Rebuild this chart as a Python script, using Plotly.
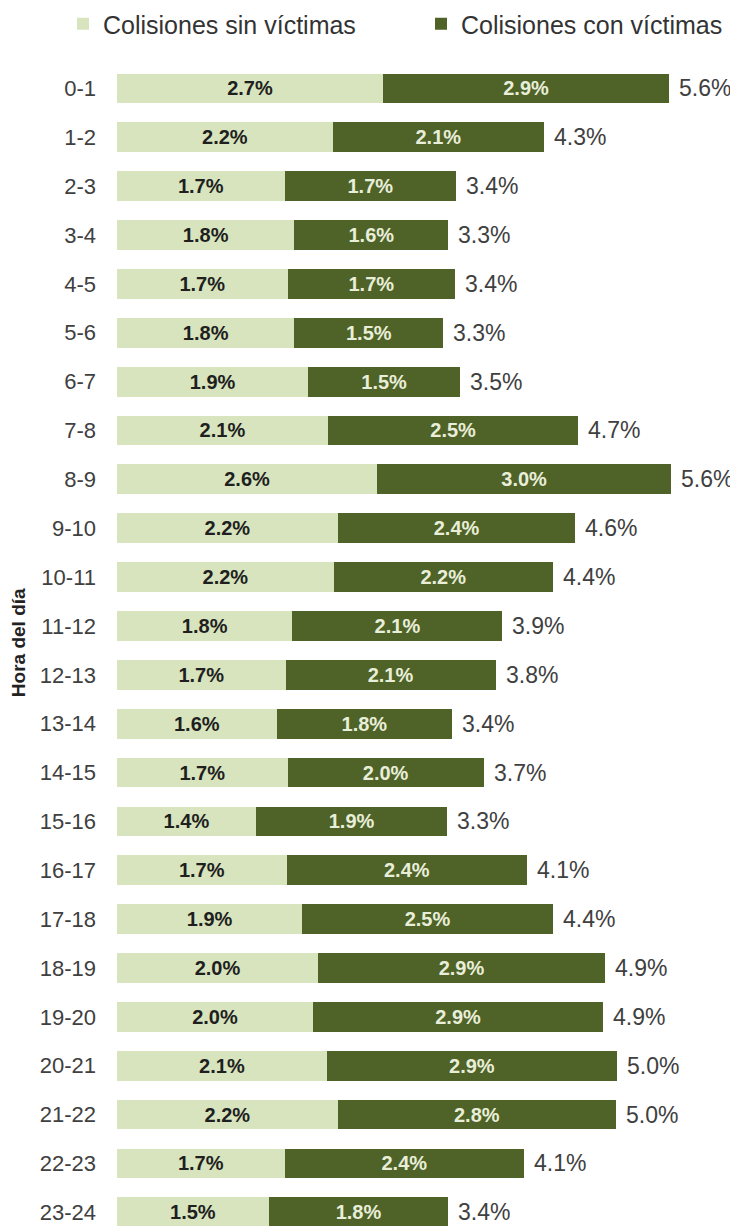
import plotly.graph_objects as go

horas = ["0-1", "1-2", "2-3", "3-4", "4-5", "5-6", "6-7", "7-8", "8-9", "9-10",
         "10-11", "11-12", "12-13", "13-14", "14-15", "15-16", "16-17", "17-18",
         "18-19", "19-20", "20-21", "21-22", "22-23", "23-24"]

# % of collisions per hour (labels rounded to 1 decimal)
sin_victimas = [2.70, 2.19, 1.70, 1.80, 1.73, 1.80, 1.94, 2.14, 2.64, 2.24,
                2.20, 1.78, 1.71, 1.62, 1.73, 1.41, 1.72, 1.88,
                2.04, 1.99, 2.13, 2.24, 1.70, 1.54]
con_victimas = [2.90, 2.14, 1.74, 1.56, 1.70, 1.51, 1.54, 2.54, 2.98, 2.41,
                2.22, 2.13, 2.13, 1.78, 1.99, 1.94, 2.44, 2.54,
                2.91, 2.94, 2.94, 2.82, 2.43, 1.82]
totales = [5.6, 4.3, 3.4, 3.3, 3.4, 3.3, 3.5, 4.7, 5.6, 4.6,
           4.4, 3.9, 3.8, 3.4, 3.7, 3.3, 4.1, 4.4,
           4.9, 4.9, 5.0, 5.0, 4.1, 3.4]

CLARO = "#d7e4bd"
OSCURO = "#4f6228"
FONT = "Arial, Liberation Sans, sans-serif"

fig = go.Figure()

fig.add_trace(go.Bar(
    y=horas, x=sin_victimas, orientation="h", name="Colisiones sin víctimas",
    marker=dict(color=CLARO, line=dict(width=0)), legend="legend",
    texttemplate="%{x:.1f}%", textposition="inside", insidetextanchor="middle",
    textangle=0, constraintext="none",
    textfont=dict(family=FONT, size=20, color="#1f1f1f", weight="bold"),
))
fig.add_trace(go.Bar(
    y=horas, x=con_victimas, orientation="h", name="Colisiones con víctimas",
    marker=dict(color=OSCURO, line=dict(width=0)), legend="legend2",
    texttemplate="%{x:.1f}%", textposition="inside", insidetextanchor="middle",
    textangle=0, constraintext="none",
    textfont=dict(family=FONT, size=20, color="#e8eed8", weight="bold"),
))

# totals just right of each stacked bar
for h, a, b, t in zip(horas, sin_victimas, con_victimas, totales):
    fig.add_annotation(
        x=a + b, y=h, text=f"{t:.1f}%", showarrow=False,
        xanchor="left", yanchor="middle", xshift=8,
        font=dict(family=FONT, size=23, color="#404040"),
    )

fig.add_annotation(
    text="<b>Hora del día</b>", xref="paper", yref="paper", x=0, y=0.5016,
    xshift=-99, xanchor="center", yanchor="middle", textangle=-90,
    showarrow=False, font=dict(family=FONT, size=19, color="#222222"),
)

leg = dict(
    orientation="h", xref="container", yref="container",
    y=1 - 16 / 1226, xanchor="left", yanchor="middle",
    font=dict(family=FONT, size=25, color="#333333"),
    itemwidth=30, bgcolor="rgba(0,0,0,0)",
)

n = len(horas)
fig.update_layout(
    width=738, height=1226,
    margin=dict(l=109, r=0, t=56, b=8),
    barmode="stack", bargap=0.39,
    paper_bgcolor="white", plot_bgcolor="white",
    font=dict(family=FONT, color="#333333"),
    showlegend=True,
    legend=dict(leg, x=55 / 738),
    legend2=dict(leg, x=413 / 738),
    xaxis=dict(visible=False, range=[0, 6.38], fixedrange=True),
    yaxis=dict(
        type="category", categoryorder="array", categoryarray=horas,
        range=[n - 1 + 0.28, -0.5], showgrid=False, zeroline=False,
        showline=False, ticks="", ticklabelstandoff=20, automargin=False,
        tickfont=dict(family=FONT, size=22, color="#404040"),
    ),
)

fig.write_html("out.html")
